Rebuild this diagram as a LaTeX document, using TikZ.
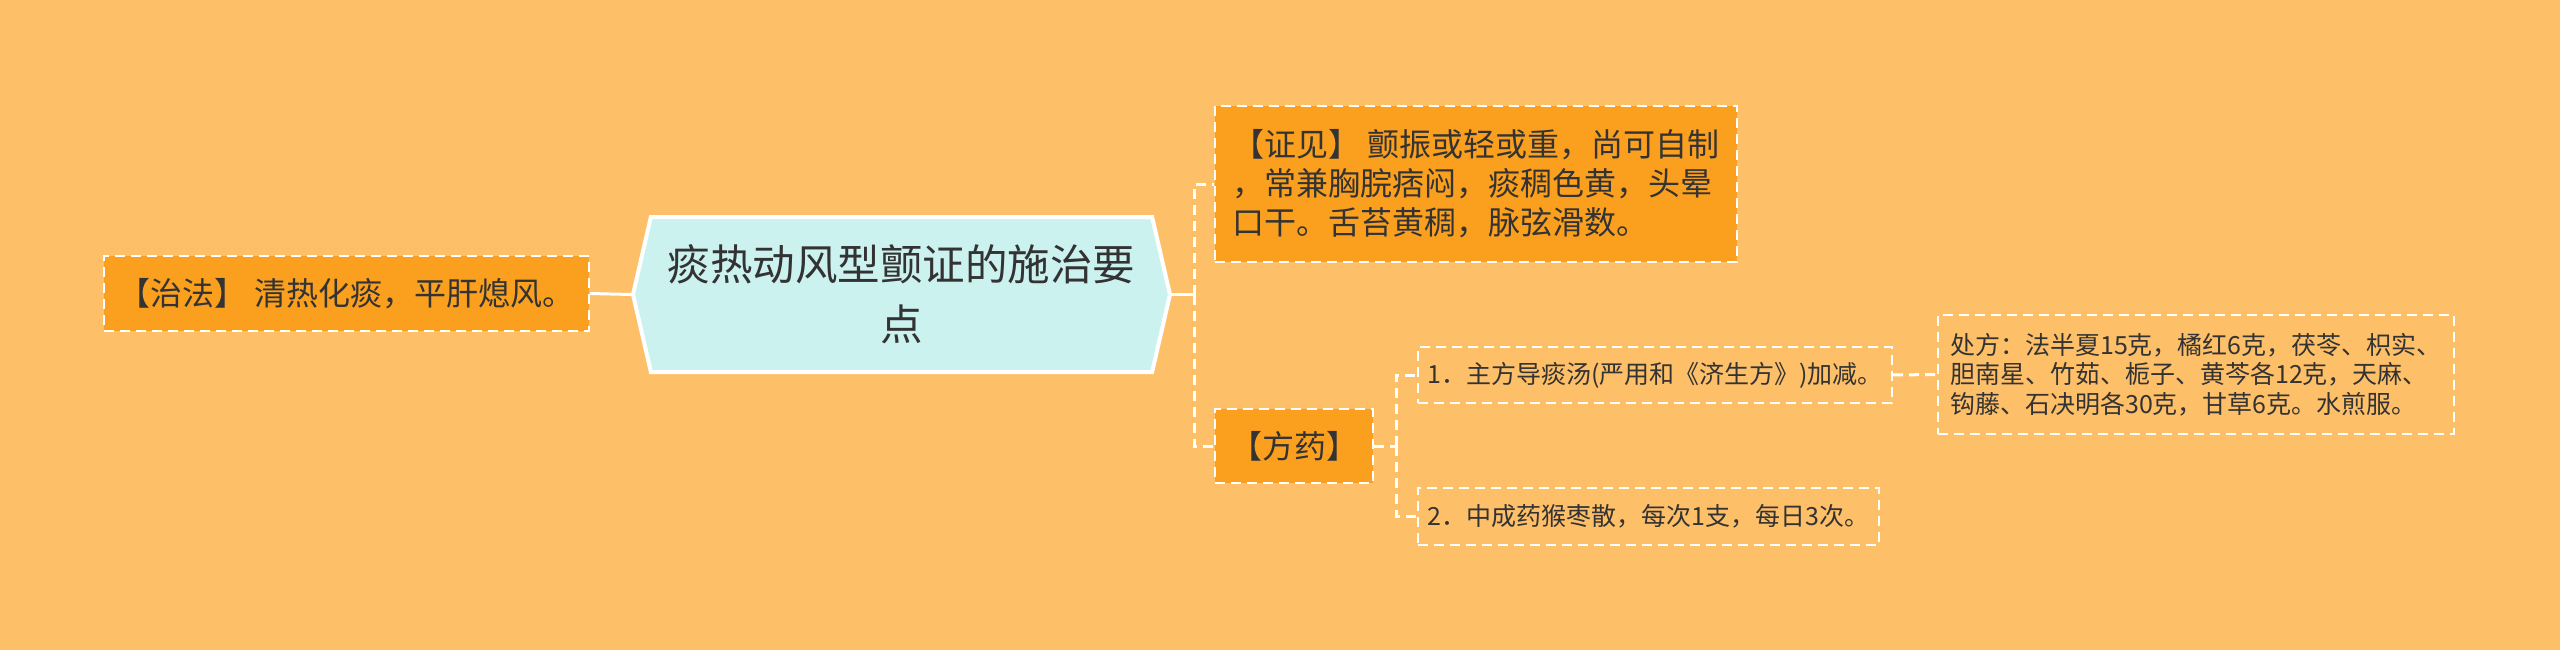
\documentclass[tikz,border=0pt]{standalone}
\usepackage{fontspec}
\setmainfont{Noto Sans CJK SC}
\usetikzlibrary{shapes.symbols}
\definecolor{bgorange}{HTML}{FEBF69}
\definecolor{boxorange}{HTML}{FBA01E}
\definecolor{topiccyan}{HTML}{CCF2EF}
\definecolor{inkgray}{HTML}{333333}
\begin{document}
\begin{tikzpicture}[x=1pt,y=-1pt,
    topicbox/.style={signal,signal to=east and west,signal pointer angle=154,draw=white,line width=4pt,
      fill=topiccyan,text=inkgray,align=center,inner sep=0pt,font=\fontsize{42.5}{60}\selectfont},
    mainbox/.style={draw=white,fill=boxorange,line width=2pt,dash pattern=on 10pt off 6pt,
      text=inkgray,align=left,inner sep=0pt,font=\fontsize{32}{39}\selectfont},
    subbox/.style={draw=white,line width=2pt,dash pattern=on 10pt off 6pt,
      text=inkgray,align=left,inner sep=0pt,font=\fontsize{25}{29.5}\selectfont},
    link/.style={draw=white,line width=3pt},
    dlink/.style={link,dash pattern=on 10pt off 6pt}]
  \fill[bgorange] (0,0) rectangle (2560,650);
  % central topic
  \node[topicbox,minimum width=537pt,minimum height=155pt] (topic) at (901.5,294.5)
    {痰热动风型颤证的施治要\\点};
  % left branch
  \node[mainbox,minimum width=485pt,minimum height=75pt] (zhifa) at (346.5,293.5)
    {【治法】 清热化痰，平肝熄风。};
  % right branches
  \node[mainbox,minimum width=522pt,minimum height=156pt] (zhengjian) at (1476,184)
    {【证见】 颤振或轻或重，尚可自制\\，常兼胸脘痞闷，痰稠色黄，头晕\\口干。舌苔黄稠，脉弦滑数。};
  \node[mainbox,minimum width=158pt,minimum height=74pt] (fangyao) at (1294,446) {【方药】};
  \node[subbox,minimum width=474pt,minimum height=56pt] (item1) at (1655,375)
    {1．主方导痰汤(严用和《济生方》)加减。};
  \node[subbox,minimum width=461pt,minimum height=57pt] (item2) at (1648.5,516.5)
    {2．中成药猴枣散，每次1支，每日3次。};
  \node[subbox,minimum width=516pt,minimum height=119pt] (chufang) at (2196,374.5)
    {处方：法半夏15克，橘红6克，茯苓、枳实、\\胆南星、竹茹、栀子、黄芩各12克，天麻、\\钩藤、石决明各30克，甘草6克。水煎服。};
  % connectors
  \coordinate (fork1) at ([xshift=22pt]topic.east);
  \coordinate (fork2) at ([xshift=22pt]fangyao.east);
  \draw[link] (zhifa.east) -- (topic.west);
  \draw[link] (topic.east) -- (fork1);
  \draw[dlink] (fork1) |- (zhengjian.west);
  \draw[dlink] (fork1) |- (fangyao.west);
  \draw[dlink] (fangyao.east) -- (fork2);
  \draw[dlink] (fork2) |- (item1.west);
  \draw[dlink] (fork2) |- (item2.west);
  \draw[dlink] (item1.east) -- (chufang.west);
\end{tikzpicture}
\end{document}
